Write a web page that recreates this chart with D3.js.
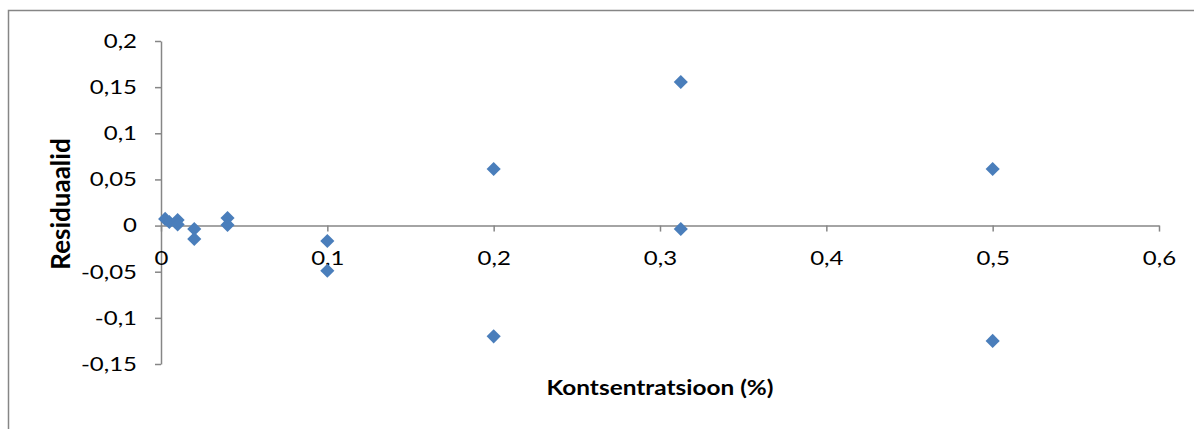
<!DOCTYPE html>
<html>
<head>
<meta charset="utf-8">
<script src="https://cdn.jsdelivr.net/npm/d3@7/dist/d3.min.js"></script>
<style>
  html, body { margin: 0; padding: 0; background: #fff; }
  svg { display: block; }
  text { font-family: Lato, "Open Sans", "Noto Sans", sans-serif; fill: #000; }
</style>
</head>
<body>
<svg id="chart" width="1194" height="429"></svg>
<script>
// Residuals versus concentration
const concentration = [0.0025, 0.005, 0.01, 0.01, 0.02, 0.02, 0.04, 0.04, 0.1, 0.1, 0.2, 0.2, 0.3125, 0.3125, 0.5, 0.5];
const residuals     = [0.0072, 0.0039, 0.006, 0.0012, -0.0037, -0.0145, 0.0082, 0.0007, -0.0167, -0.049, 0.0613, -0.12, 0.1556, -0.0037, 0.0613, -0.125];
const xTicks = [0, 0.1, 0.2, 0.3, 0.4, 0.5, 0.6];
const yTicks = [0.2, 0.15, 0.1, 0.05, 0, -0.05, -0.1, -0.15];
const xTitle = "Kontsentratsioon (%)";
const yTitle = "Residuaalid";

const svg = d3.select("#chart");
const axisColor = "#868686";
const markColor = "#4a7ebb";
const fmt = v => String(v).replace(".", ",");
const stretch = 1.2;   // wide lettering of the labels

// chart frame
svg.append("rect")
  .attr("x", 8.5).attr("y", 10.5)
  .attr("width", 1200).attr("height", 440)
  .attr("fill", "none").attr("stroke", axisColor).attr("stroke-width", 1.5);

const x = d3.scaleLinear().domain([0, 0.6]).range([161, 1159]);
const y = d3.scaleLinear().domain([-0.15, 0.2]).range([364, 41]);

// y axis with ticks pointing left
const yAxis = svg.append("g").attr("transform", `translate(${x(0)},0)`)
  .call(d3.axisLeft(y).tickValues(yTicks).tickSize(6).tickSizeOuter(0).tickPadding(18).tickFormat(fmt));
yAxis.select(".domain").attr("stroke", axisColor).attr("stroke-width", 1.5);
yAxis.selectAll(".tick line").attr("stroke", axisColor).attr("stroke-width", 1.5);
yAxis.selectAll("text")
  .attr("font-size", 20).attr("fill", "#000")
  .attr("x", -24 / stretch)
  .attr("transform", `scale(${stretch},1)`)
  .style("font-family", "Lato, 'Open Sans', sans-serif");

// x axis along the zero residual line, ticks pointing down
const xAxis = svg.append("g").attr("transform", `translate(0,${y(0)})`)
  .call(d3.axisBottom(x).tickValues(xTicks).tickSize(6).tickSizeOuter(0).tickPadding(19).tickFormat(fmt));
xAxis.select(".domain").attr("stroke", axisColor).attr("stroke-width", 1.5);
xAxis.selectAll(".tick line").attr("stroke", axisColor).attr("stroke-width", 1.5);
xAxis.selectAll("text")
  .attr("font-size", 20).attr("fill", "#000")
  .attr("transform", `scale(${stretch},1)`)
  .style("font-family", "Lato, 'Open Sans', sans-serif");

// diamond markers
const diamond = d3.symbol().type(d3.symbolSquare).size(100);
svg.append("g").selectAll("path")
  .data(concentration.map((c, i) => [c, residuals[i]]))
  .join("path")
  .attr("d", diamond)
  .attr("transform", d => `translate(${x(d[0])},${y(d[1])}) rotate(45)`)
  .attr("fill", markColor);

// axis titles
svg.append("text")
  .attr("transform", `translate(660,395) scale(1.22,1)`)
  .attr("text-anchor", "middle")
  .attr("font-size", 20).attr("font-weight", "bold")
  .text(xTitle);

svg.append("text")
  .attr("transform", "translate(70,204) rotate(-90)")
  .attr("text-anchor", "middle")
  .attr("font-size", 26).attr("font-weight", "bold")
  .text(yTitle);
</script>
</body>
</html>
